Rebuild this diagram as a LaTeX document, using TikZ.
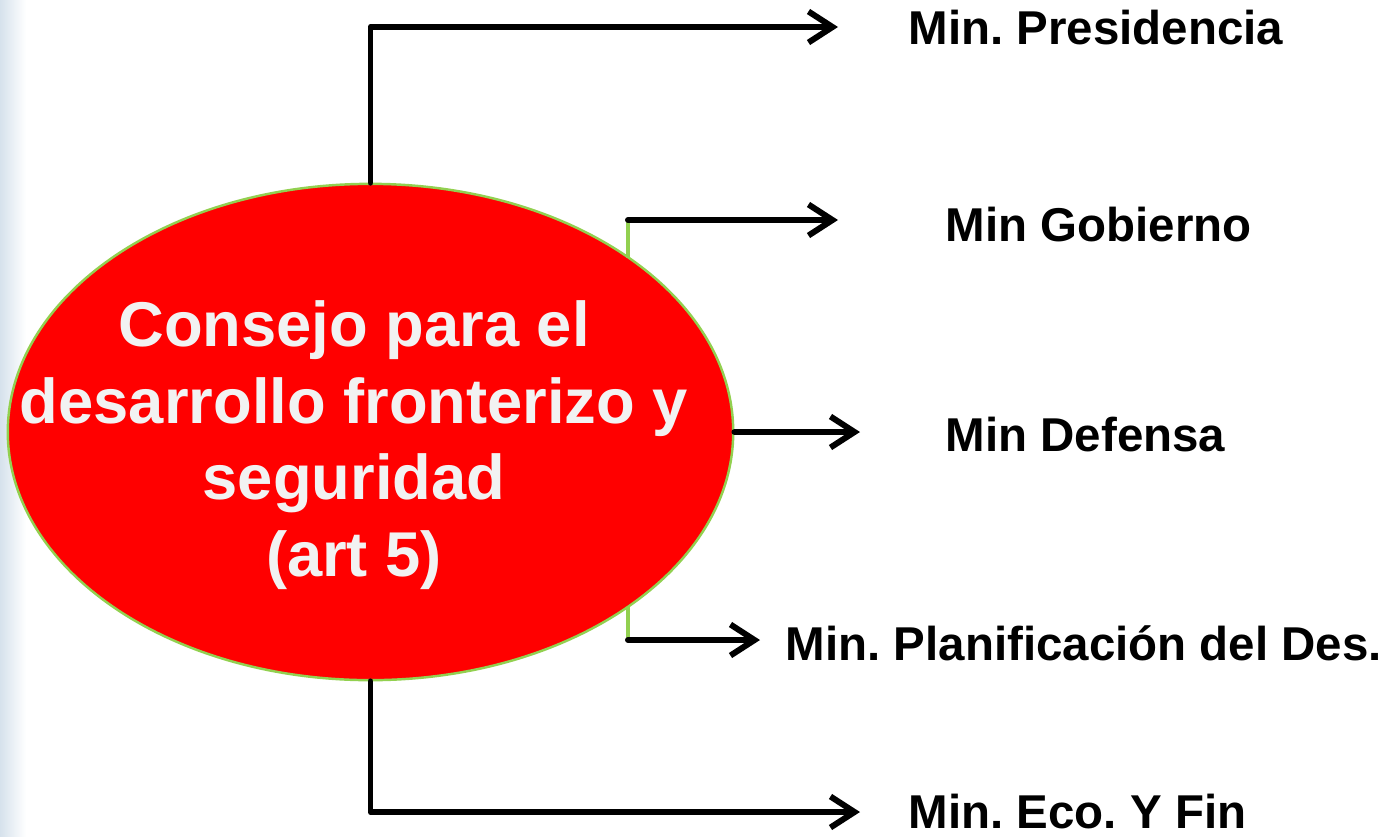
\documentclass[tikz,border=0pt]{standalone}
\usepackage{fontspec}
\setmainfont{Liberation Sans}
\usetikzlibrary{shapes.geometric,arrows.meta}
\definecolor{rojo}{RGB}{255,0,0}
\definecolor{verde}{RGB}{146,208,80}
\definecolor{blanco}{RGB}{242,242,242}
\definecolor{fondo}{RGB}{214,226,236}
\frenchspacing
\tikzset{
    consejobox/.style={ellipse,draw=verde,line width=0.7pt,fill=rojo,
        minimum width=7.25cm,minimum height=4.96cm,inner sep=0pt},
    ministerio/.style={anchor=west,inner sep=0pt,
        font=\fontsize{13.5}{16}\selectfont\bfseries},
    flecha/.style={line width=1.7pt,line cap=round,line join=round,
        -{Straight Barb[length=2.4mm,width=3.1mm,line width=1.7pt]}},
    enlace/.style={draw=verde,line width=1.2pt}
}
\begin{document}
\begin{tikzpicture}[x=0.01cm,y=-0.01cm]
    \useasboundingbox (0,0) rectangle (1388,836);
    \shade[left color=fondo,right color=white] (0,0) rectangle (26,836);
    \node[consejobox] (consejo) at (370.5,432) {};
    \node[align=center,text=blanco,
        font=\fontsize{18}{21.8}\selectfont\bfseries] (titulo) at (354,445)
        {Consejo para el\\desarrollo fronterizo y\\seguridad\\(art 5)};
    \node[ministerio] (presidencia) at (908,28) {Min. Presidencia};
    \node[ministerio] (gobierno) at (945,225) {Min Gobierno};
    \node[ministerio] (defensa) at (945,435) {Min Defensa};
    \node[ministerio] (planificacion) at (785,643) {Min. Planificación del Des.};
    \node[ministerio] (economia) at (908,812) {Min. Eco. Y Fin};
    \coordinate (gob-a) at (628,220);
    \coordinate (gob-b) at (628,257.5);
    \coordinate (pla-a) at (628,640);
    \coordinate (pla-b) at (628,606.5);
    \draw[flecha] (consejo.north) |- (838,27);
    \draw[enlace] (gob-b) -- (gob-a);
    \draw[flecha] (gob-a) -- (838,220);
    \draw[flecha] (consejo.east) -- (860,432);
    \draw[enlace] (pla-b) -- (pla-a);
    \draw[flecha] (pla-a) -- (760,640);
    \draw[flecha] (consejo.south) |- (860,812);
\end{tikzpicture}
\end{document}
